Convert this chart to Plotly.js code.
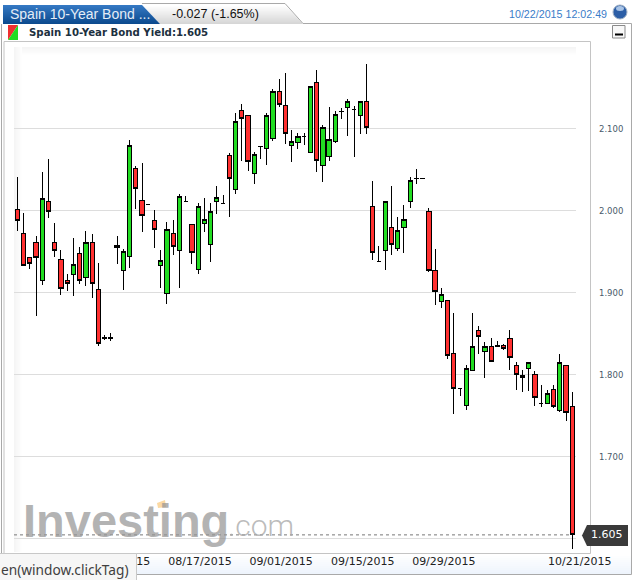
<!DOCTYPE html>
<html>
<head>
<meta charset="utf-8">
<script src="https://cdn.plot.ly/plotly-3.0.1.min.js"></script>
<style>html,body{margin:0;padding:0;background:#fff;overflow:hidden}
.boxlayer path{shape-rendering:crispEdges}</style>
</head>
<body>
<div id="chart" style="width:635px;height:580px"></div>
<script>
const bars = [0,1,2,3,4,5,6,7,8,9,10,11,12,13,14,15,16,17,18,19,20,21,22,23,24,25,26,27,28,29,30,31,32,33,34,35,36,37,38,39,40,41,42,43,44,45,46,47,48,49,50,51,52,53,54,55,56,57,58,59,60,61,62,63,64,65,66,67,68,69,70,71,72,73,74,75,76,77,78,79,80,81,82,83,84,85,86,87,88,89];
const openVals = [2.002,1.972,1.943,1.961,1.915,2.012,1.962,1.941,1.915,1.922,1.948,1.919,1.961,1.904,1.846,1.844,1.958,1.928,1.945,2.052,2.013,2.008,1.988,1.934,1.899,1.972,1.952,2.012,1.984,1.929,1.985,1.959,2.012,2.009,2.068,2.026,2.123,2.117,2.046,2.079,2.076,2.088,2.146,2.129,2.080,2.084,2.091,2.071,2.157,2.056,2.067,2.085,2.121,2.126,2.124,2.116,2.133,2.005,1.938,1.952,1.980,1.954,1.980,2.011,2.040,2.040,1.999,1.927,1.890,1.891,1.826,1.783,1.763,1.806,1.854,1.829,1.835,1.836,1.836,1.844,1.812,1.799,1.808,1.800,1.765,1.765,1.782,1.757,1.811,1.761];
const highVals = [2.041,1.997,1.944,1.969,2.047,2.063,1.985,1.953,1.923,1.967,1.956,1.976,1.972,1.936,1.849,1.851,1.969,1.954,2.087,2.055,2.059,2.008,2.001,1.952,1.987,1.989,2.021,2.018,1.984,2.010,2.016,2.010,2.030,2.019,2.071,2.120,2.130,2.117,2.072,2.079,2.120,2.149,2.161,2.168,2.099,2.095,2.095,2.152,2.172,2.105,2.127,2.122,2.126,2.137,2.128,2.134,2.179,2.037,1.957,2.012,2.030,1.993,2.007,2.041,2.051,2.040,2.004,1.954,1.906,1.891,1.876,1.784,1.812,1.876,1.860,1.840,1.845,1.842,1.838,1.855,1.816,1.806,1.815,1.805,1.788,1.782,1.788,1.825,1.811,1.779];
const lowVals = [1.976,1.933,1.929,1.872,1.910,1.992,1.944,1.898,1.903,1.896,1.911,1.909,1.894,1.835,1.843,1.842,1.935,1.904,1.931,2.002,1.974,2.008,1.955,1.906,1.887,1.946,1.906,2.012,1.935,1.923,1.974,1.938,1.996,2.009,1.993,2.021,2.061,2.049,2.033,2.064,2.056,2.085,2.127,2.082,2.060,2.076,2.080,2.071,2.047,2.035,2.061,2.083,2.112,2.091,2.066,2.094,2.094,1.940,1.938,1.928,1.946,1.951,1.949,2.004,2.033,2.040,1.925,1.885,1.882,1.819,1.753,1.774,1.757,1.806,1.825,1.796,1.817,1.834,1.830,1.806,1.782,1.779,1.780,1.762,1.761,1.765,1.760,1.755,1.744,1.588];
const closeVals = [1.988,1.934,1.936,1.943,2.015,1.999,1.952,1.906,1.912,1.935,1.915,1.961,1.912,1.839,1.844,1.846,1.955,1.951,2.080,2.027,1.994,2.008,1.978,1.940,1.978,1.957,2.018,2.012,1.949,2.006,1.990,1.999,2.016,2.009,2.040,2.109,2.113,2.060,2.069,2.079,2.116,2.146,2.130,2.094,2.085,2.091,2.091,2.152,2.061,2.102,2.087,2.118,2.121,2.134,2.124,2.133,2.102,1.949,1.938,2.011,1.959,1.976,1.990,2.037,2.040,2.040,1.927,1.902,1.898,1.824,1.784,1.783,1.808,1.835,1.847,1.835,1.817,1.835,1.832,1.821,1.800,1.797,1.815,1.772,1.765,1.778,1.761,1.815,1.754,1.605];
const yTicks = [1.6,1.7,1.8,1.9,2.0,2.1];
const yLabels = ["","1.700","1.800","1.900","2.000","2.100"];
const xTicks = [20.2,29.3,42.3,55.4,68.4,90.2];
const xLabels = ["15","08/17/2015","09/01/2015","09/15/2015","09/29/2015","10/21/2015"];
const lastValue = 1.605;

const W = 576, H = 512, L = 14, T = 41;
const px = x => (x - L) / W;
const py = y => (T + H - y) / H;
const shapes = [];
function rect(x0, y0, x1, y1, fill, layer, line) {
  shapes.push({type:'rect', xref:'paper', yref:'paper', x0:px(x0), x1:px(x1), y0:py(y0), y1:py(y1),
    fillcolor:fill, layer:layer||'below', line: line || {width:0}});
}
function path(pts, fill, layer, line) {
  const d = pts.map((p,i)=>(i?'L':'M')+px(p[0])+','+py(p[1])).join(' ') + (fill ? ' Z' : '');
  shapes.push({type:'path', xref:'paper', yref:'paper', path:d, fillcolor:fill||'rgba(0,0,0,0)', layer:layer||'below', line: line || {width:0}});
}
function lerp(a,b,t){return a.map((v,i)=>Math.round(v+(b[i]-v)*t));}
function rgb(c){return 'rgb('+c.join(',')+')';}

// tabs
for (let y = 5; y < 24; y++) {
  const t = (y-5)/18;
  const slantR = 142 + (y-5)*18/19;
  path([[slantR,y],[285+(y-5)*18/19,y],[285+(y+1-5)*18/19,y+1],[slantR+1,y+1]], rgb(lerp([255,255,255],[214,214,214],t)));
  path([[3,y],[slantR,y],[slantR+1,y+1],[3,y+1]], rgb(lerp([52,120,195],[12,74,142],t)));
}
const greyLine = {color:'#a9a9a9', width:1};
path([[142,3.5],[285,3.5],[303,23.5],[631.5,23.5],[631.5,574.5],[1.5,574.5],[1.5,24]], null, 'below', greyLine);
// x band gradient
for (let y = 554; y < 574; y += 2) rect(2, y, 631, y+2, rgb(lerp([255,255,255],[236,243,252],(y-554)/20)));
// fade strips
for (let i = 0; i < 8; i++) {
  const c = rgb(lerp([245,245,245],[255,255,255],i/8));
  rect(14+i, 47, 15+i, 552, c);
  rect(14+i, 47+i, 576, 48+i, c);
}
// frame
rect(4, 41.5, 590.5, 553.5, 'rgba(0,0,0,0)', 'below', {color:'#c4c4c4', width:1});
// cover gridline right end
rect(576, 42, 590, 553, '#ffffff', 'above');
// last price dotted
shapes.push({type:'line', xref:'paper', yref:'y', x0:0, x1:px(570), y0:lastValue, y1:lastValue, layer:'above', line:{color:'#777777', width:1, dash:'dot'}});
// tag
path([[582,535.5],[587,525],[628,525],[628,546],[587,546]], '#3a3a3a', 'above');
// color icon
path([[8,25],[18,25],[8,40]], '#f03030');
path([[18,25],[18,40],[8,40]], '#22dd22');
// minimise button
shapes.push({type:'rect', xref:'paper', yref:'paper', x0:px(612.5), x1:px(625), y0:py(38), y1:py(25.5), fillcolor:'#f8f8f8', layer:'below', line:{color:'#8a8a8a', width:1}});
rect(615, 33.5, 623, 35.5, '#000000');
// circle icon
shapes.push({type:'circle', xref:'paper', yref:'paper', x0:px(613), x1:px(627), y0:py(19), y1:py(5), fillcolor:'#2c5ea6', layer:'below', line:{color:'#9fb0c4', width:1}});
shapes.push({type:'circle', xref:'paper', yref:'paper', x0:px(616), x1:px(624), y0:py(11), y1:py(6), fillcolor:'#a9c4e6', layer:'below', line:{width:0}});
// logo dot tint
path([[157,503],[165,500],[166,507],[158,508]], '#fbd9a3', 'above');
// tooltip
rect(-1, 553.5, 136.5, 581, '#f6f6f6', 'above', {color:'#c8c8c8', width:1});

function note(text, x, y, size, color, family, anchor, weight, yref) {
  return {text:text, xref:'paper', yref:yref||'paper', x:px(x), y:yref?y:py(y), showarrow:false,
    xanchor:anchor||'left', yanchor:'middle', align:anchor||'left',
    font:{size:size, color:color, family:family, weight:weight||'normal'}};
}
const annotations = [
  note('Spain 10-Year Bond ...', 8, 13.5, 14, '#e4edf7', 'Liberation Sans'),
  note('-0.027 (-1.65%)', 170, 13.5, 12.5, '#111111', 'Liberation Sans'),
  note('10/22/2015 12:02:49', 609, 13.5, 10.7, '#3a7cc8', 'Liberation Sans', 'right'),
  note('Spain 10-Year Bond Yield:1.605', 26.5, 32, 10.2, '#1c3040', 'DejaVu Sans', 'left', 'bold'),
  note('Investing', 21, 520, 47, 'rgba(150,150,150,0.72)', 'Liberation Sans', 'left', 'bold'),
  note('.com', 226, 525, 30, 'rgba(170,170,170,0.8)', 'Roboto', 'left', 300),
  note(String(lastValue.toFixed(3)), 607, lastValue, 11, '#ffffff', 'DejaVu Sans', 'center', 'normal', 'y'),
  note('en(window.clickTag)', -1.5, 569, 13.7, '#404040', 'Noto Sans')
];

const trace = {
  type:'candlestick', x:bars, open:openVals, high:highVals, low:lowVals, close:closeVals,
  whiskerwidth:0, hoverinfo:'none',
  increasing:{line:{color:'#000000', width:1}, fillcolor:'#22dd22'},
  decreasing:{line:{color:'#000000', width:1}, fillcolor:'#ff3030'}
};
const layout = {
  width:635, height:580, showlegend:false, paper_bgcolor:'#ffffff', plot_bgcolor:'rgba(0,0,0,0)',
  margin:{l:L, r:45, t:T, b:27, pad:0}, boxgap:0.02,
  xaxis:{range:[-0.53,91.84], tickmode:'array', tickvals:xTicks, ticktext:xLabels, showgrid:false, zeroline:false, showline:false, ticks:'',
    rangeslider:{visible:false}, tickangle:0, tickfont:{family:'DejaVu Sans', size:11, color:'#222222'}},
  yaxis:{range:[1.5829,2.2073], side:'right', tickmode:'array', tickvals:yTicks, ticktext:yLabels, showgrid:true, gridcolor:'#dddddd', gridwidth:1,
    zeroline:false, showline:false, ticks:'', ticklabelstandoff:8, tickfont:{family:'DejaVu Sans', size:8.5, color:'#4a5a6a'}},
  shapes:shapes, annotations:annotations
};
Plotly.newPlot('chart', [trace], layout, {displayModeBar:false, staticPlot:true});
</script>
</body>
</html>
